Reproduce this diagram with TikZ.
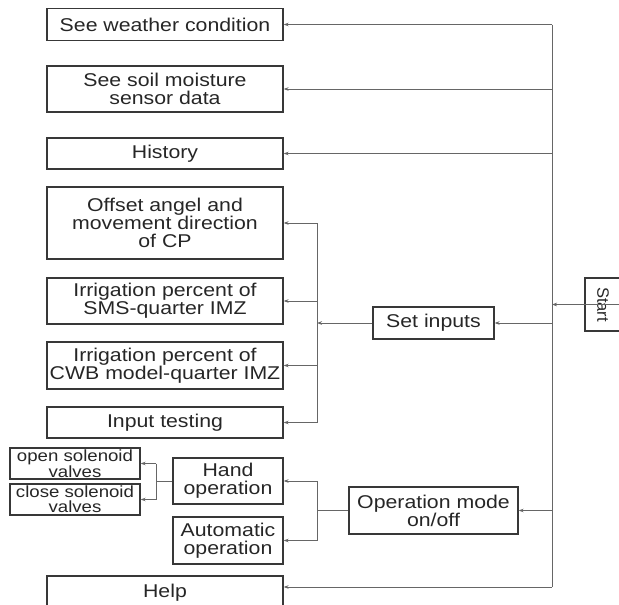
\documentclass[tikz,border=0pt]{standalone}
\usepackage{fontspec}
\setmainfont{Liberation Sans}[FakeStretch=1.15]
\newfontfamily\plainsans{Liberation Sans}
\usetikzlibrary{arrows.meta,calc}
\begin{document}
\begin{tikzpicture}[x=1pt,y=-1pt,
  box/.style={draw=black!78,line width=1.3pt,rectangle,inner sep=0pt,align=center,
    font=\fontsize{18.5}{18}\selectfont,text=black!85},
  smallbox/.style={box,font=\fontsize{16.2}{15}\selectfont},
  conn/.style={draw=black!60,line width=0.9pt},
  arr/.style={conn,-{Stealth[length=5pt,width=3.6pt]}}]
\useasboundingbox (0,0) rectangle (619,605);
\clip (0,0) rectangle (619,605);
% left column boxes
\node[box,minimum width=236pt,minimum height=32pt] (weather) at (165,24.5) {See weather condition};
\node[box,minimum width=236pt,minimum height=46pt] (soil) at (165,89) {See soil moisture\\sensor data};
\node[box,minimum width=236pt,minimum height=31pt] (history) at (165,153.5) {History};
\node[box,minimum width=236pt,minimum height=72pt] (offset) at (165,223) {Offset angel and\\movement direction\\of CP};
\node[box,minimum width=236pt,minimum height=46pt] (sms) at (165,301) {Irrigation percent of\\SMS-quarter IMZ};
\node[box,minimum width=236pt,minimum height=47pt] (cwb) at (165,365.5) {Irrigation percent of\\CWB model-quarter IMZ};
\node[box,minimum width=236pt,minimum height=31pt] (input) at (165,422.5) {Input testing};
\node[box,minimum width=110pt,minimum height=46pt] (hand) at (228,481) {Hand\\operation};
\node[box,minimum width=110pt,minimum height=47pt] (auto) at (228,540.5) {Automatic\\operation};
\node[box,minimum width=236pt,minimum height=34pt] (help) at (165,593) {Help};
\node[smallbox,minimum width=130pt,minimum height=31pt] (open) at (75,463.5) {open solenoid\\valves};
\node[smallbox,minimum width=130pt,minimum height=31pt] (close) at (75,499.5) {close solenoid\\valves};
% middle boxes
\node[box,minimum width=121pt,minimum height=32pt] (setin) at (433.5,323) {Set inputs};
\node[box,minimum width=169pt,minimum height=47pt] (opmode) at (433.5,510.5) {Operation mode\\on/off};
% start
\node[box,minimum width=53pt,minimum height=36pt,rotate=-90,font=\plainsans\fontsize{16.5}{16}\selectfont] (start) at (603,304.5) {Start};
% bus coordinates
\coordinate (mtop) at (552,24.5);
\coordinate (mbot) at (552,587);
\coordinate (ibus) at (317,0);
\coordinate (sbus) at (156,0);
% main bus
\draw[conn] (mtop) -- (mbot);
\draw[arr] (start.north) -- (start.north -| mtop);
\draw[arr] (mtop) -- (weather.east);
\draw[arr] (soil.east -| mtop) -- (soil.east);
\draw[arr] (history.east -| mtop) -- (history.east);
\draw[arr] (setin.east -| mtop) -- (setin.east);
\draw[arr] (opmode.east -| mtop) -- (opmode.east);
\draw[arr] (mbot) -- (help.east |- mbot);
% inputs bus
\draw[arr] (setin.west) -- (setin.west -| ibus);
\draw[conn] (offset.east -| ibus) -- (input.east -| ibus);
\draw[arr] (offset.east -| ibus) -- (offset.east);
\draw[arr] (sms.east -| ibus) -- (sms.east);
\draw[arr] (cwb.east -| ibus) -- (cwb.east);
\draw[arr] (input.east -| ibus) -- (input.east);
% operation bus
\draw[conn] (opmode.west) -- (opmode.west -| ibus);
\draw[conn] (hand.east -| ibus) -- (auto.east -| ibus);
\draw[arr] (hand.east -| ibus) -- (hand.east);
\draw[arr] (auto.east -| ibus) -- (auto.east);
% solenoid bus
\draw[conn] (hand.west) -- (hand.west -| sbus);
\draw[conn] (open.east -| sbus) -- (close.east -| sbus);
\draw[arr] (open.east -| sbus) -- (open.east);
\draw[arr] (close.east -| sbus) -- (close.east);
\end{tikzpicture}
\end{document}
